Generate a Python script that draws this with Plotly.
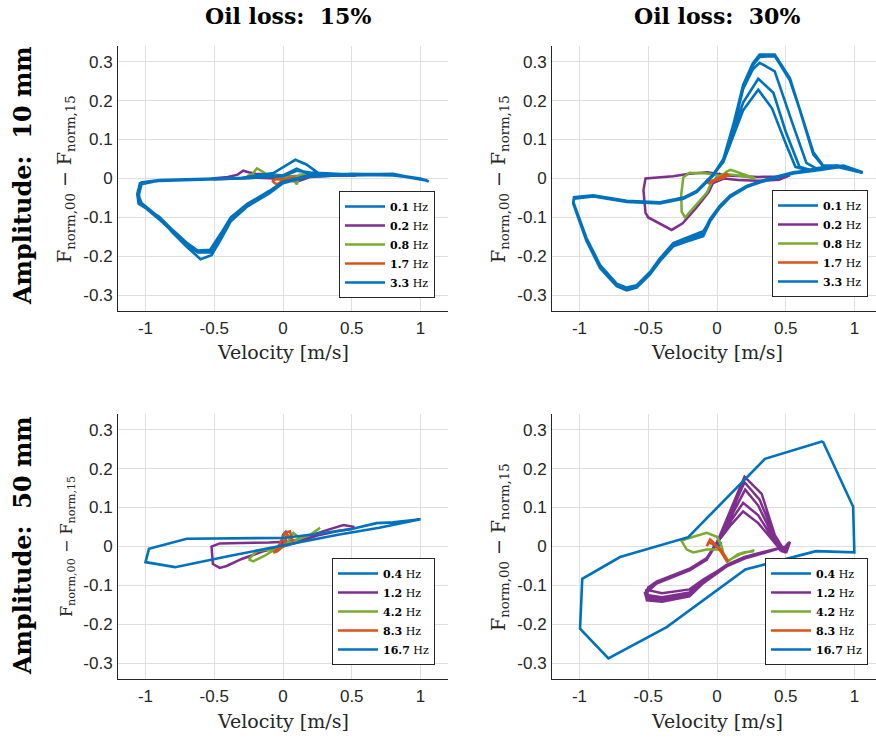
import plotly.graph_objects as go

# ---------------- colours (MATLAB default order) ----------------
BLUE = "#0072BD"
PURPLE = "#7E2F8E"
GREEN = "#77AC30"
ORANGE = "#D95319"

# ---------------- legend labels ----------------
freq_labels_10mm = ["0.1", "0.2", "0.8", "1.7", "3.3"]
freq_labels_50mm = ["0.4", "1.2", "4.2", "8.3", "16.7"]

# ================= Amplitude 10 mm, oil loss 15 % =================
tl_f1_x = [-0.02, 0.0, 0.02, 0.03, 0.01, -0.01, -0.02]
tl_f1_y = [-0.004, 0.002, 0.004, 0.0, -0.006, -0.005, -0.004]

tl_f2_x = [0.53, 0.4, 0.2, 0.05, -0.07, -0.2, -0.25, -0.29, -0.33, -0.4, -0.52,
           -0.5, -0.35, -0.2, -0.05, 0.05, 0.1, 0.15, 0.2, 0.35, 0.53]
tl_f2_y = [0.01, 0.011, 0.008, 0.006, 0.01, 0.012, 0.016, 0.02, 0.01, 0.004, 0.0,
           -0.002, 0.0, 0.002, 0.0, -0.005, -0.008, -0.002, 0.004, 0.007, 0.008]

tl_f3_x = [0.28, 0.2, 0.12, 0.1, 0.08, 0.0, -0.1, -0.14, -0.19, -0.22, -0.26,
           -0.2, -0.1, 0.0, 0.1, 0.15, 0.22, 0.28]
tl_f3_y = [0.012, 0.012, 0.01, -0.015, -0.005, 0.003, 0.006, 0.016, 0.026, 0.012, 0.006,
           0.008, 0.01, 0.005, 0.005, 0.012, 0.014, 0.012]

tl_f4_x = [-0.08, -0.06, -0.04, 0.0, 0.04, 0.07, 0.1, 0.08, 0.04, 0.0, -0.05, -0.08]
tl_f4_y = [-0.005, -0.012, -0.015, -0.005, 0.002, 0.0, -0.006, 0.003, 0.0, -0.002, -0.002, -0.005]

tl_f5_x = [1.06, 1.0, 0.8, 0.5, 0.28, 0.17, 0.09, -0.07, -0.3, -0.6, -0.9, -1.03, -1.05, -1.04,
           -0.9, -0.8, -0.7, -0.6, -0.52, -0.45, -0.38, -0.26, -0.1, 0.0, 0.17, 0.5, 0.8, 1.0, 1.06,
           1.05, 0.8, 0.5, 0.2, 0.1, 0.0, -0.3, -0.6, -0.9, -1.04, -1.06, -1.05,
           -0.9, -0.8, -0.7, -0.62, -0.53, -0.45, -0.38, -0.26, -0.1, 0.0, 0.17, 0.5, 0.8, 1.05,
           1.04, 0.8, 0.5, 0.2, 0.1, 0.0, -0.3, -0.6, -0.9, -1.03, -1.05, -1.02,
           -0.9, -0.8, -0.7, -0.62, -0.53, -0.45, -0.38, -0.26, -0.1, 0.0, 0.17, 0.5, 0.8, 1.04]
tl_f5_y = [-0.008, 0.0, 0.01, 0.012, 0.008, 0.036, 0.048, 0.014, 0.002, -0.001, -0.004, -0.01, -0.035, -0.06,
           -0.1, -0.14, -0.175, -0.207, -0.197, -0.155, -0.11, -0.072, -0.038, -0.012, 0.004, 0.01, 0.008, 0.0, -0.008,
           -0.006, 0.012, 0.01, 0.015, 0.02, 0.006, 0.0, -0.003, -0.006, -0.012, -0.04, -0.065,
           -0.098, -0.133, -0.165, -0.185, -0.183, -0.14, -0.1, -0.065, -0.032, -0.008, 0.006, 0.012, 0.01, -0.006,
           -0.004, 0.01, 0.008, 0.01, 0.025, 0.008, 0.001, -0.002, -0.005, -0.015, -0.045, -0.07,
           -0.105, -0.138, -0.17, -0.19, -0.19, -0.145, -0.105, -0.068, -0.035, -0.01, 0.005, 0.011, 0.009, -0.004]

# ================= Amplitude 10 mm, oil loss 30 % =================
tr_f1_x = [-0.03, 0.0, 0.03, 0.02, -0.01, -0.03]
tr_f1_y = [-0.012, -0.002, 0.01, 0.012, 0.0, -0.012]

tr_f2_x = [0.53, 0.45, 0.3, 0.15, 0.07, -0.07, -0.2, -0.32, -0.45, -0.52, -0.535, -0.52, -0.5,
           -0.41, -0.33, -0.25, -0.15, -0.06, -0.03, 0.05, 0.15, 0.3, 0.45, 0.53]
tr_f2_y = [0.008, 0.005, 0.004, 0.006, 0.008, 0.016, 0.012, 0.006, 0.003, 0.0, -0.03, -0.088, -0.1,
           -0.118, -0.132, -0.115, -0.075, -0.035, -0.012, 0.0, -0.004, -0.006, -0.003, 0.008]

tr_f3_x = [0.28, 0.2, 0.15, 0.1, 0.07, 0.03, -0.07, -0.2, -0.245, -0.26, -0.257, -0.233,
           -0.15, -0.075, -0.04, 0.0, 0.05, 0.12, 0.2, 0.28]
tr_f3_y = [0.0, 0.01, 0.016, 0.022, 0.018, 0.006, 0.013, 0.015, 0.003, -0.04, -0.085, -0.1,
           -0.067, -0.037, -0.01, 0.002, 0.012, 0.01, 0.006, 0.0]

tr_f4_x = [-0.08, -0.06, -0.03, 0.0, 0.04, 0.07, 0.08, 0.05, 0.0, -0.05, -0.08]
tr_f4_y = [-0.004, -0.012, -0.008, 0.0, 0.006, 0.012, 0.008, 0.002, -0.004, -0.006, -0.004]

tr_f5_x = [1.06, 1.0, 0.92, 0.75, 0.555, 0.36, 0.216, 0.095, 0.02, -0.05, -0.1, -0.22, -0.318, -0.415,
           -0.487, -0.584, -0.657, -0.73, -0.85, -0.95, -1.02, -1.045,
           -1.04, -0.9, -0.657, -0.415, -0.245, -0.148, -0.075, -0.027, 0.046, 0.12, 0.19, 0.26, 0.31,
           0.42, 0.53, 0.6, 0.7, 0.77, 0.87, 1.0, 1.06,
           1.0, 0.92, 0.75, 0.555, 0.36, 0.216, 0.095, 0.02, -0.05, -0.1, -0.22, -0.318, -0.415,
           -0.487, -0.584, -0.657, -0.73, -0.85, -0.95, -1.02, -1.045,
           -1.04, -0.9, -0.657, -0.415, -0.245, -0.148, -0.075, -0.027, 0.046, 0.12, 0.19, 0.26, 0.31,
           0.42, 0.53, 0.6, 0.7, 0.77, 0.87, 1.0, 1.06,
           1.0, 0.92, 0.75, 0.555, 0.36, 0.216, 0.095, 0.02, -0.05, -0.1, -0.22, -0.318, -0.415,
           -0.487, -0.584, -0.657, -0.73, -0.85, -0.95, -1.02, -1.045,
           -1.04, -0.9, -0.657, -0.415, -0.245, -0.148, -0.075, -0.027, 0.046, 0.12, 0.19, 0.26, 0.31,
           0.42, 0.55, 0.65, 0.72, 0.87, 1.0, 1.06,
           1.0, 0.92, 0.75, 0.555, 0.36, 0.216, 0.095, 0.02, -0.05, -0.1, -0.22, -0.318, -0.415,
           -0.487, -0.584, -0.657, -0.73, -0.85, -0.95, -1.02, -1.045,
           -1.04, -0.9, -0.657, -0.415, -0.245, -0.148, -0.075, -0.027, 0.046, 0.12, 0.19, 0.3,
           0.41, 0.5, 0.6, 0.68, 0.87, 1.0, 1.06,
           1.0, 0.92, 0.75, 0.555, 0.36, 0.216, 0.095, 0.02, -0.05, -0.1, -0.22, -0.318, -0.415,
           -0.487, -0.584, -0.657, -0.73, -0.85, -0.95, -1.02, -1.045,
           -1.04, -0.9, -0.657, -0.415, -0.245, -0.148, -0.075, -0.027, 0.046, 0.12, 0.19, 0.3,
           0.4, 0.5, 0.57, 0.65, 0.87, 1.0, 1.06]
tr_f5_y = [0.015, 0.022, 0.032, 0.023, 0.015, -0.003, -0.02, -0.045, -0.071, -0.105, -0.14, -0.156, -0.169, -0.208,
           -0.242, -0.276, -0.282, -0.272, -0.225, -0.156, -0.088, -0.062,
           -0.05, -0.044, -0.058, -0.062, -0.05, -0.033, -0.007, 0.01, 0.05, 0.14, 0.24, 0.295, 0.318,
           0.318, 0.258, 0.182, 0.068, 0.034, 0.033, 0.022, 0.015,
           0.02, 0.03, 0.024, 0.014, -0.004, -0.022, -0.048, -0.075, -0.11, -0.148, -0.162, -0.174, -0.212,
           -0.246, -0.28, -0.287, -0.276, -0.23, -0.16, -0.09, -0.065,
           -0.052, -0.046, -0.06, -0.064, -0.052, -0.035, -0.009, 0.008, 0.049, 0.136, 0.236, 0.29, 0.312,
           0.314, 0.252, 0.178, 0.062, 0.032, 0.03, 0.02, 0.014,
           0.021, 0.031, 0.022, 0.013, -0.005, -0.021, -0.046, -0.073, -0.108, -0.135, -0.152, -0.166, -0.205,
           -0.24, -0.274, -0.28, -0.27, -0.222, -0.152, -0.085, -0.06,
           -0.048, -0.043, -0.057, -0.061, -0.049, -0.032, -0.006, 0.011, 0.048, 0.13, 0.23, 0.28, 0.297,
           0.275, 0.14, 0.04, 0.026, 0.034, 0.023, 0.016,
           0.022, 0.033, 0.025, 0.016, -0.002, -0.019, -0.044, -0.07, -0.104, -0.138, -0.158, -0.171, -0.21,
           -0.244, -0.278, -0.284, -0.274, -0.227, -0.158, -0.09, -0.063,
           -0.051, -0.045, -0.059, -0.063, -0.051, -0.034, -0.008, 0.009, 0.045, 0.12, 0.195, 0.256,
           0.22, 0.12, 0.03, 0.022, 0.031, 0.021, 0.015,
           0.02, 0.03, 0.022, 0.014, -0.004, -0.021, -0.047, -0.074, -0.108, -0.145, -0.16, -0.172, -0.21,
           -0.245, -0.279, -0.285, -0.275, -0.228, -0.158, -0.089, -0.063,
           -0.05, -0.044, -0.058, -0.062, -0.05, -0.033, -0.007, 0.01, 0.042, 0.11, 0.175, 0.228,
           0.18, 0.09, 0.03, 0.022, 0.032, 0.022, 0.015]

# ================= Amplitude 50 mm, oil loss 15 % =================
bl_f1_x = [0.0, -0.01, 0.0, 0.02, 0.03, 0.02, 0.01, 0.0]
bl_f1_y = [0.0, 0.005, 0.03, 0.038, 0.03, 0.015, 0.005, 0.0]

bl_f2_x = [0.52, 0.44, 0.3, 0.15, 0.05, -0.1, -0.3, -0.46, -0.52, -0.51, -0.46, -0.41,
           -0.3, -0.15, 0.0, 0.1, 0.25, 0.4, 0.5, 0.52]
bl_f2_y = [0.05, 0.055, 0.04, 0.022, 0.013, 0.01, 0.009, 0.008, 0.0, -0.045, -0.055, -0.05,
           -0.032, -0.013, 0.0, 0.01, 0.028, 0.04, 0.045, 0.05]

bl_f3_x = [-0.25, -0.19, -0.12, -0.05, 0.03, 0.075, 0.12, 0.2, 0.27, 0.2, 0.12, 0.05, 0.0,
           -0.07, -0.14, -0.216, -0.25]
bl_f3_y = [-0.033, -0.012, -0.008, -0.012, 0.009, 0.035, 0.022, 0.031, 0.048, 0.03, 0.02, 0.01, 0.0,
           -0.01, -0.025, -0.038, -0.033]

bl_f4_x = [-0.07, -0.046, -0.02, 0.015, 0.05, 0.075, 0.06, 0.03, 0.0, -0.04, -0.07]
bl_f4_y = [-0.016, -0.008, 0.01, 0.035, 0.039, 0.009, 0.02, 0.03, 0.0, -0.012, -0.016]

bl_f5_x = [1.0, 0.8, 0.68, 0.5, 0.2, 0.0, -0.7, -0.975, -1.0, -0.785, -0.4, 0.0, 0.4, 0.7, 1.0]
bl_f5_y = [0.07, 0.062, 0.06, 0.045, 0.03, 0.022, 0.02, -0.006, -0.04, -0.053, -0.025, 0.003, 0.03, 0.048, 0.07]

# ================= Amplitude 50 mm, oil loss 30 % =================
br_f1_x = [-0.03, 0.0, 0.03, 0.02, -0.02, -0.03]
br_f1_y = [0.0, 0.008, 0.01, 0.003, 0.0, 0.0]

br_f2_x = [0.5, 0.36, 0.2, 0.07, -0.1, -0.2, -0.4, -0.51, -0.524, -0.44, -0.32, -0.2, -0.075, 0.0,
           0.1, 0.2, 0.325, 0.42, 0.48, 0.507, 0.53, 0.5,
           0.36, 0.2, 0.07, -0.1, -0.2, -0.4, -0.5, -0.515, -0.44, -0.32, -0.2, -0.075, 0.0,
           0.1, 0.2, 0.31, 0.45, 0.5, 0.52, 0.5,
           0.36, 0.2, 0.07, -0.1, -0.2, -0.4, -0.49, -0.5, -0.44, -0.32, -0.2, -0.075, 0.0,
           0.1, 0.205, 0.3, 0.45, 0.49, 0.51, 0.5,
           0.36, 0.2, 0.07, -0.1, -0.2, -0.4, -0.5, -0.51, -0.44, -0.32, -0.2, -0.075, 0.0,
           0.1, 0.19, 0.3, 0.46, 0.5, 0.52, 0.5,
           0.36, 0.2, 0.07, -0.1, -0.2, -0.4, -0.51, -0.52, -0.44, -0.32, -0.2, -0.075, 0.0,
           0.1, 0.19, 0.3, 0.47, 0.5, 0.53, 0.5]
br_f2_y = [0.0, -0.014, -0.03, -0.05, -0.093, -0.127, -0.14, -0.136, -0.119, -0.093, -0.076, -0.06, -0.033, 0.01,
           0.095, 0.179, 0.135, 0.03, -0.005, -0.012, 0.011, 0.0,
           -0.012, -0.027, -0.047, -0.088, -0.118, -0.13, -0.125, -0.112, -0.092, -0.075, -0.058, -0.032, 0.012,
           0.085, 0.165, 0.12, 0.0, -0.01, 0.008, 0.0,
           -0.013, -0.029, -0.049, -0.085, -0.11, -0.12, -0.113, -0.105, -0.09, -0.074, -0.057, -0.03, 0.012,
           0.075, 0.146, 0.105, -0.005, -0.014, 0.005, 0.0,
           -0.014, -0.03, -0.05, -0.09, -0.122, -0.135, -0.13, -0.115, -0.093, -0.076, -0.06, -0.033, 0.01,
           0.065, 0.112, 0.08, -0.01, -0.012, 0.01, 0.0,
           -0.015, -0.031, -0.051, -0.094, -0.128, -0.142, -0.138, -0.121, -0.095, -0.077, -0.061, -0.034, 0.009,
           0.055, 0.09, 0.06, -0.012, -0.015, 0.012, 0.0]

br_f3_x = [0.27, 0.2, 0.15, 0.08, 0.05, 0.034, 0.0, -0.075, -0.22, -0.257, -0.22, -0.172,
           -0.075, 0.022, 0.07, 0.167, 0.264, 0.27]
br_f3_y = [-0.012, -0.015, -0.02, -0.038, -0.025, 0.001, 0.025, 0.035, 0.02, 0.014, -0.008, -0.015,
           -0.008, -0.008, -0.038, -0.02, -0.01, -0.012]

br_f4_x = [-0.075, -0.05, -0.03, 0.0, 0.034, 0.07, 0.082, 0.06, 0.02, -0.02, -0.06, -0.075]
br_f4_y = [0.001, 0.018, 0.012, 0.0, -0.016, -0.035, -0.038, -0.025, -0.005, 0.005, 0.01, 0.001]

br_f5_x = [0.769, 0.99, 0.999, 0.72, 0.206, -0.366, -0.79, -0.996, -0.98, -0.705, -0.209, 0.349, 0.769]
br_f5_y = [0.27, 0.102, -0.015, -0.012, -0.059, -0.207, -0.287, -0.211, -0.083, -0.027, 0.024, 0.225, 0.27]

# ---------------- figure ----------------
W, H = 876, 739
ML, MR, MT, MB = 118, 0, 46, 60
PW, PH = W - ML - MR, H - MT - MB


def px2paper_x(px):
    return (px - ML) / PW


def px2paper_y(py):
    return (H - MB - py) / PH


colors = [BLUE, PURPLE, GREEN, ORANGE, BLUE]
widths = [2.5, 2.5, 2.5, 2.5, 2.6]

panels = [
    ("x", "y", "legend", freq_labels_10mm,
     [(tl_f1_x, tl_f1_y), (tl_f2_x, tl_f2_y), (tl_f3_x, tl_f3_y), (tl_f4_x, tl_f4_y), (tl_f5_x, tl_f5_y)]),
    ("x2", "y2", "legend2", freq_labels_10mm,
     [(tr_f1_x, tr_f1_y), (tr_f2_x, tr_f2_y), (tr_f3_x, tr_f3_y), (tr_f4_x, tr_f4_y), (tr_f5_x, tr_f5_y)]),
    ("x3", "y3", "legend3", freq_labels_50mm,
     [(bl_f1_x, bl_f1_y), (bl_f2_x, bl_f2_y), (bl_f3_x, bl_f3_y), (bl_f4_x, bl_f4_y), (bl_f5_x, bl_f5_y)]),
    ("x4", "y4", "legend4", freq_labels_50mm,
     [(br_f1_x, br_f1_y), (br_f2_x, br_f2_y), (br_f3_x, br_f3_y), (br_f4_x, br_f4_y), (br_f5_x, br_f5_y)]),
]

fig = go.Figure()
for xa, ya, lg, labels, series in panels:
    for i, ((sx, sy), lab) in enumerate(zip(series, labels)):
        fig.add_trace(go.Scatter(
            x=sx, y=sy, mode="lines", xaxis=xa, yaxis=ya, legend=lg,
            name="<b>" + lab + "</b> Hz",
            line=dict(color=colors[i], width=widths[i]),
            showlegend=True,
        ))

left_dom = [0.0, px2paper_x(448)]
right_dom = [px2paper_x(552), 1.0]
top_dom = [px2paper_y(311), 1.0]
bot_dom = [0.0, px2paper_y(414)]

tickfont = dict(family="Liberation Sans, Arial, sans-serif", size=17, color="#262626")
ax_common = dict(showgrid=True, gridcolor="#dfdfdf", gridwidth=1, zeroline=False,
                 showline=True, linecolor="#262626", linewidth=1, ticks="",
                 tickfont=tickfont, mirror=False)

xticks = [-1, -0.5, 0, 0.5, 1]
xtext = ["-1", "-0.5", "0", "0.5", "1"]
yticks = [-0.3, -0.2, -0.1, 0, 0.1, 0.2, 0.3]
ytext = ["-0.3", "-0.2", "-0.1", "0", "0.1", "0.2", "0.3"]

right_max = -1.2 + (W - 552) / 137.5

layout = dict(
    width=W, height=H,
    margin=dict(l=ML, r=MR, t=MT, b=MB),
    paper_bgcolor="white", plot_bgcolor="white",
    xaxis=dict(domain=left_dom, range=[-1.2, 1.2], anchor="y", tickvals=xticks, ticktext=xtext,
               ticklabelstandoff=2, **ax_common),
    xaxis2=dict(domain=right_dom, range=[-1.2, right_max], anchor="y2", tickvals=xticks, ticktext=xtext,
                ticklabelstandoff=2, **ax_common),
    xaxis3=dict(domain=left_dom, range=[-1.2, 1.2], anchor="y3", tickvals=xticks, ticktext=xtext,
                ticklabelstandoff=2, **ax_common),
    xaxis4=dict(domain=right_dom, range=[-1.2, right_max], anchor="y4", tickvals=xticks, ticktext=xtext,
                ticklabelstandoff=2, **ax_common),
    yaxis=dict(domain=top_dom, range=[-0.34, 0.34], anchor="x", tickvals=yticks, ticktext=ytext,
               ticklabelstandoff=1, **ax_common),
    yaxis2=dict(domain=top_dom, range=[-0.34, 0.34], anchor="x2", tickvals=yticks, ticktext=ytext,
                ticklabelstandoff=1, **ax_common),
    yaxis3=dict(domain=bot_dom, range=[-0.34, 0.34], anchor="x3", tickvals=yticks, ticktext=ytext,
                ticklabelstandoff=1, **ax_common),
    yaxis4=dict(domain=bot_dom, range=[-0.34, 0.34], anchor="x4", tickvals=yticks, ticktext=ytext,
                ticklabelstandoff=1, **ax_common),
    showlegend=True,
)

leg_common = dict(xanchor="right", yanchor="bottom", bgcolor="white", bordercolor="#262626",
                  borderwidth=1, font=dict(family="DejaVu Serif, serif", size=11, color="black"),
                  itemwidth=40, tracegroupgap=0, xref="paper", yref="paper")
layout["legend"] = dict(x=px2paper_x(435), y=px2paper_y(298), **leg_common)
layout["legend2"] = dict(x=px2paper_x(868), y=px2paper_y(297), **leg_common)
layout["legend3"] = dict(x=px2paper_x(435), y=px2paper_y(665), **leg_common)
layout["legend4"] = dict(x=px2paper_x(868), y=px2paper_y(665), **leg_common)

fig.update_layout(**layout)

serif = "DejaVu Serif, serif"
ylab = "F<sub>norm,00</sub> − F<sub>norm,15</sub>"
annotations = [
    dict(text="<b>Oil loss:  15%</b>", x=px2paper_x(288), y=px2paper_y(16), font=dict(family=serif, size=22, color="black")),
    dict(text="<b>Oil loss:  30%</b>", x=px2paper_x(717), y=px2paper_y(16), font=dict(family=serif, size=22, color="black")),
    dict(text="<b>Amplitude:  10 mm</b>", x=px2paper_x(22), y=px2paper_y(176), textangle=-90,
         font=dict(family=serif, size=24, color="black")),
    dict(text="<b>Amplitude:  50 mm</b>", x=px2paper_x(22), y=px2paper_y(546), textangle=-90,
         font=dict(family=serif, size=24, color="black")),
    dict(text=ylab, x=px2paper_x(65), y=px2paper_y(179), textangle=-90, font=dict(family=serif, size=19, color="#262626")),
    dict(text=ylab, x=px2paper_x(499), y=px2paper_y(179), textangle=-90, font=dict(family=serif, size=19, color="#262626")),
    dict(text=ylab, x=px2paper_x(67), y=px2paper_y(547), textangle=-90, font=dict(family=serif, size=16, color="#262626")),
    dict(text=ylab, x=px2paper_x(499), y=px2paper_y(547), textangle=-90, font=dict(family=serif, size=19, color="#262626")),
    dict(text="Velocity [m/s]", x=px2paper_x(283), y=px2paper_y(352), font=dict(family=serif, size=19, color="#262626")),
    dict(text="Velocity [m/s]", x=px2paper_x(717), y=px2paper_y(352), font=dict(family=serif, size=19, color="#262626")),
    dict(text="Velocity [m/s]", x=px2paper_x(283), y=px2paper_y(721), font=dict(family=serif, size=19, color="#262626")),
    dict(text="Velocity [m/s]", x=px2paper_x(717), y=px2paper_y(721), font=dict(family=serif, size=19, color="#262626")),
]
for a in annotations:
    a.update(xref="paper", yref="paper", showarrow=False, xanchor="center", yanchor="middle")
fig.update_layout(annotations=annotations)

fig.write_html("out.html", config={"displayModeBar": False},
               post_script="document.body.style.margin='0px';")
